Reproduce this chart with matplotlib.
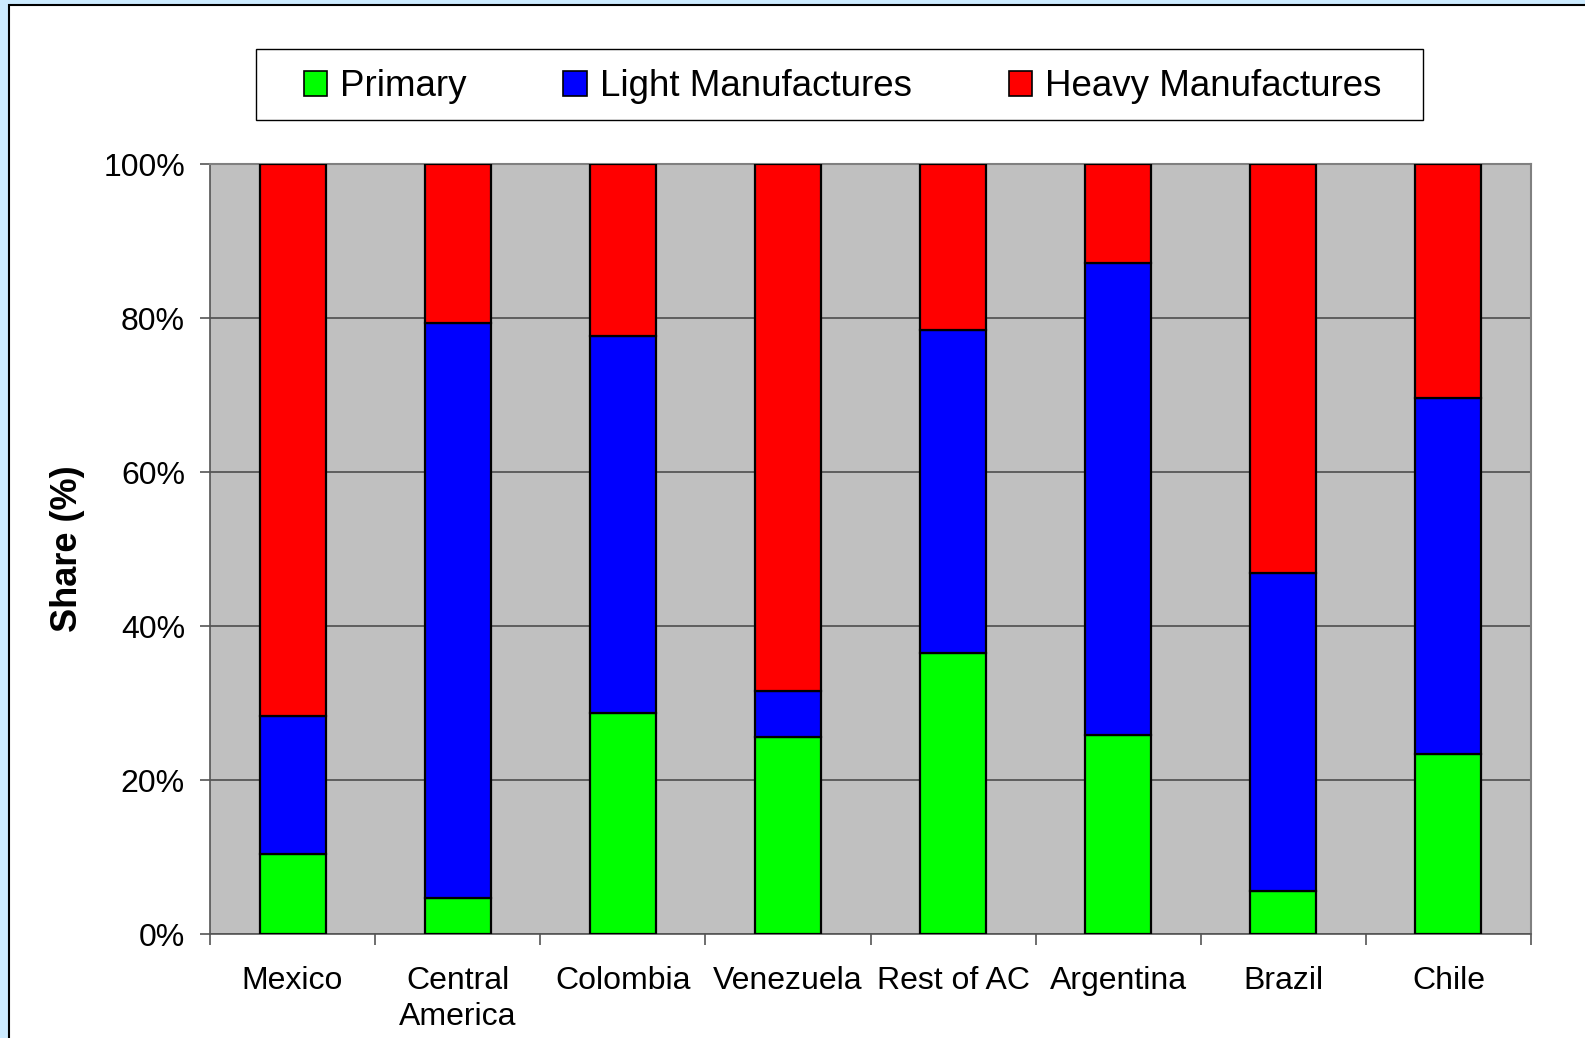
import numpy as np
import matplotlib
matplotlib.use("Agg")
import matplotlib.pyplot as plt
from matplotlib.patches import Rectangle, Patch

plt.rcParams['font.family'] = ['Liberation Sans', 'DejaVu Sans']

countries = ['Mexico', 'Central\nAmerica', 'Colombia', 'Venezuela', 'Rest of AC',
             'Argentina', 'Brazil', 'Chile']
primary = [10.4, 4.7, 28.7, 25.6, 36.5, 25.9, 5.6, 23.4]
light = [17.9, 74.6, 48.9, 5.9, 42.0, 61.2, 41.3, 46.2]
heavy = [71.7, 20.7, 22.4, 68.5, 21.5, 12.9, 53.1, 30.4]
series_names = ['Primary', 'Light Manufactures', 'Heavy Manufactures']
series_colors = ['#00FF00', '#0000FF', '#FF0000']
y_ticks = [0, 20, 40, 60, 80, 100]

W, H = 1585, 1038
fig = plt.figure(figsize=(W / 100, H / 100), dpi=100, facecolor='#CCEBFF')

# white panel with black frame
fig.patches.append(Rectangle((9 / W, -0.01), 1.02, 1 - 5 / H + 0.01, transform=fig.transFigure,
                             facecolor='white', edgecolor='black', linewidth=1.5, zorder=-1))

ax = fig.add_axes([210 / W, 1 - 934 / H, (1531 - 210) / W, (934 - 164) / H])
ax.set_facecolor('#C0C0C0')

x = np.arange(len(countries))
bottom = np.zeros(len(countries))
for vals, name, color in zip([primary, light, heavy], series_names, series_colors):
    ax.bar(x, vals, width=0.4, bottom=bottom, color=color, edgecolor='black',
           linewidth=1.6, label=name, zorder=3)
    bottom += np.array(vals)

ax.set_xlim(-0.5, len(countries) - 0.5)
ax.set_ylim(0, 100)
ax.set_yticks(y_ticks)
ax.set_yticklabels([f'{t}%' for t in y_ticks], fontsize=23)
ax.yaxis.grid(True, color='#4D4D4D', linewidth=1.2, zorder=1)
ax.set_axisbelow(True)

ax.set_xticks(np.arange(len(countries) + 1) - 0.5)
ax.set_xticklabels([])
ax.set_xticks(x, minor=True)
ax.set_xticklabels(countries, minor=True, fontsize=23, linespacing=1.28)
ax.tick_params(axis='x', which='minor', length=0, pad=23)
ax.tick_params(axis='x', which='major', length=8, width=1.2, color='#555555')
ax.tick_params(axis='y', length=7, width=1.2, color='#555555', pad=11)

for side in ['left', 'bottom']:
    ax.spines[side].set_color('#555555')
    ax.spines[side].set_linewidth(1.2)
for side in ['top', 'right']:
    ax.spines[side].set_color('#808080')
    ax.spines[side].set_linewidth(1.5)

ax.set_ylabel('Share (%)', fontsize=26, fontweight='bold', labelpad=13)

# legend box drawn separately so the horizontal padding matches
fig.patches.append(Rectangle((256 / W, 1 - 120 / H), (1423 - 256) / W, 71 / H,
                             transform=fig.transFigure, facecolor='white',
                             edgecolor='black', linewidth=1.0, zorder=1))
handles = [Patch(facecolor=c, edgecolor='black', linewidth=1.2) for c in series_colors]
leg = fig.legend(handles, series_names, loc='center', ncol=3,
                 bbox_to_anchor=((256 + 1423) / 2 / W + 0.002, 1 - 87 / H),
                 fontsize=26.5, frameon=False,
                 handlelength=0.65, handleheight=0.65, handletextpad=0.35,
                 columnspacing=2.62, borderpad=0.3)
leg.set_zorder(5)

fig.savefig('out.png', dpi=100, facecolor=fig.get_facecolor())
